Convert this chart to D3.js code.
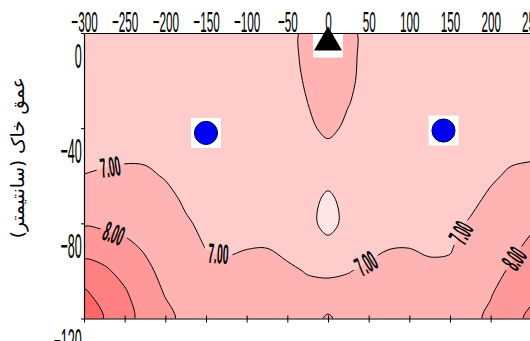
<!DOCTYPE html>
<html>
<head>
<meta charset="utf-8">
<script src="https://cdn.jsdelivr.net/npm/d3@7"></script>
<style>
  html, body { margin: 0; padding: 0; background: #fff; }
  svg { display: block; }
</style>
</head>
<body>
<div id="chart"></div>
<script>
const xValues = [-300, -275, -250, -225, -200, -175, -150, -125, -100, -75, -50, -25, 0,
                 25, 50, 75, 100, 125, 150, 175, 200, 225, 250, 275, 300];
const depths = [0, -10, -20, -30, -40, -50, -60, -70, -80, -90, -100, -110, -120];

const d0   = [6.4, 6.4, 6.4, 6.4, 6.4, 6.4, 6.4, 6.4, 6.4, 6.45, 6.6, 7.31, 7.6, 7.31, 6.6, 6.45, 6.4, 6.4, 6.4, 6.4, 6.4, 6.4, 6.4, 6.4, 6.4];
const d10  = [6.45, 6.45, 6.45, 6.45, 6.45, 6.45, 6.45, 6.45, 6.45, 6.47, 6.6, 7.3, 7.55, 7.3, 6.6, 6.47, 6.45, 6.45, 6.45, 6.45, 6.45, 6.45, 6.45, 6.45, 6.45];
const d20  = [6.5, 6.5, 6.5, 6.5, 6.5, 6.5, 6.5, 6.5, 6.5, 6.5, 6.6, 7.14, 7.45, 7.22, 6.6, 6.5, 6.5, 6.5, 6.5, 6.5, 6.5, 6.5, 6.5, 6.5, 6.5];
const d30  = [6.55, 6.55, 6.55, 6.55, 6.55, 6.55, 6.52, 6.52, 6.52, 6.52, 6.6, 6.99, 7.4, 7.03, 6.6, 6.52, 6.52, 6.52, 6.52, 6.55, 6.55, 6.6, 6.6, 6.6, 6.6];
const d40  = [6.65, 6.65, 6.65, 6.65, 6.62, 6.6, 6.55, 6.55, 6.55, 6.55, 6.6, 6.75, 7.3, 6.75, 6.6, 6.55, 6.55, 6.55, 6.55, 6.6, 6.65, 6.7, 6.75, 6.75, 6.78];
const d50  = [6.75, 6.8, 6.85, 6.85, 6.78, 6.68, 6.6, 6.6, 6.6, 6.6, 6.6, 6.62, 6.62, 6.62, 6.6, 6.6, 6.6, 6.6, 6.6, 6.65, 6.8, 6.85, 6.9, 6.92, 6.93];
const d60  = [7.02, 7.1, 7.15, 7.12, 6.95, 6.75, 6.65, 6.65, 6.65, 6.65, 6.62, 6.6, 6.6, 6.6, 6.62, 6.65, 6.65, 6.65, 6.65, 6.7, 6.9, 7.1, 7.15, 7.25, 7.3];
const d70  = [7.45, 7.5, 7.45, 7.4, 7.2, 6.9, 6.7, 6.7, 6.72, 6.72, 6.65, 6.6, 5.65, 6.6, 6.65, 6.72, 6.72, 6.72, 6.72, 6.85, 7.12, 7.35, 7.5, 7.7, 8.02];
const d80  = [7.9, 7.8, 7.75, 7.65, 7.4, 7.08, 6.85, 6.8, 6.85, 6.85, 6.7, 6.6, 5.35, 6.6, 6.7, 6.85, 6.8, 6.8, 6.82, 7.06, 7.3, 7.55, 7.85, 8.2, 8.5];
const d90  = [8.6, 8.5, 8.2, 7.9, 7.55, 7.25, 6.98, 6.93, 6.98, 6.99, 6.88, 6.75, 6.65, 6.75, 6.88, 6.98, 6.99, 6.93, 6.94, 7.3, 7.5, 7.8, 8.2, 8.55, 8.9];
const d100 = [9.4, 9.15, 8.7, 8.2, 7.75, 7.4, 7.2, 7.12, 7.18, 7.2, 7.08, 6.97, 6.94, 6.98, 7.08, 7.18, 7.2, 7.1, 7.14, 7.5, 7.72, 8.1, 8.5, 8.92, 9.3];
const d110 = [10.2, 9.6, 9.15, 8.4, 7.97, 7.6, 7.4, 7.3, 7.35, 7.4, 7.3, 7.15, 7.14, 7.17, 7.3, 7.38, 7.4, 7.3, 7.35, 7.7, 7.96, 8.4, 8.85, 9.3, 9.7];
const d120 = [11.0, 9.95, 9.4, 8.6, 8.2, 7.8, 7.6, 7.5, 7.5, 7.55, 7.5, 7.35, 8.2, 7.35, 7.5, 7.55, 7.6, 7.55, 7.65, 7.8, 8.15, 8.7, 9.2, 9.7, 10.1];

const levels = [6, 7, 8, 9, 10];
const bandColors = ['#ffe6e6', '#ffcccc', '#ffb3b3', '#ff9999', '#ff8080', '#ff6666'];

// contour labels (level, approx position)
const labelLevels = [7, 8, 7, 7, 7, 8];
const labelX = [-266, -263, -135, 47, 164, 230];
const labelY = [-59, -84, -93, -97, -84, -95];

// sampling points
const markerType = ['triangle', 'circle', 'circle'];
const markerX = [0, -150, 142];
const markerY = [-4, -42, -41];

const xTicks = [-300, -250, -200, -150, -100, -50, 0, 50, 100, 150, 200, 250, 300];
const yTicks = [0, -40, -80, -120];
const yTitle = 'عمق خاک (سانتیمتر)';

const width = 530;
const height = 341;

const svg = d3.select('#chart')
  .append('svg')
  .attr('width', width)
  .attr('height', height);

const x = d3.scaleLinear().domain([-300, 300]).range([84, 572]);
const y = d3.scaleLinear().domain([0, -120]).range([33, 318.5]);

// grid index -> pixel (d3.contours puts sample i at i + 0.5)
const nx = xValues.length, ny = depths.length;
const gx = d3.scaleLinear().domain([0.5, nx - 0.5]).range([x(xValues[0]), x(xValues[nx - 1])]);
const gy = d3.scaleLinear().domain([0.5, ny - 0.5]).range([y(depths[0]), y(depths[ny - 1])]);

const values = [].concat(d0, d10, d20, d30, d40, d50, d60, d70, d80, d90, d100, d110, d120);
const contours = d3.contours().size([nx, ny]).thresholds(levels)(values);

const ringLine = d3.line().curve(d3.curveCatmullRomClosed.alpha(0.5));
function multiPath(multi) {
  return multi.coordinates.map(poly =>
    poly.map(ring => ringLine(ring.slice(0, -1).map(p => [gx(p[0]), gy(p[1])]))).join('')
  ).join('');
}

const defs = svg.append('defs');
defs.append('clipPath').attr('id', 'plot-clip')
  .append('rect')
  .attr('x', x(-300)).attr('y', y(0))
  .attr('width', x(300) - x(-300)).attr('height', y(-120) - y(0));

// find where a label sits on its contour and the line direction there
function placeLabel(level, lx, ly) {
  const px = x(lx), py = y(ly);
  const multi = contours.find(c => c.value === level);
  let best = null;
  multi.coordinates.forEach(poly => poly.forEach(ring => {
    const pts = ring.map(p => [gx(p[0]), gy(p[1])]);
    for (let i = 0; i < pts.length - 1; i++) {
      const ax = pts[i][0], ay = pts[i][1];
      const dx = pts[i + 1][0] - ax, dy = pts[i + 1][1] - ay;
      const len2 = dx * dx + dy * dy || 1;
      const t = Math.max(0, Math.min(1, ((px - ax) * dx + (py - ay) * dy) / len2));
      const qx = ax + t * dx, qy = ay + t * dy;
      const dist = (qx - px) ** 2 + (qy - py) ** 2;
      if (!best || dist < best.dist) {
        const p0 = pts[Math.max(0, i - 1)], p1 = pts[Math.min(pts.length - 1, i + 2)];
        best = { dist, qx, qy, angle: Math.atan2(p1[1] - p0[1], p1[0] - p0[0]) * 180 / Math.PI };
      }
    }
  }));
  let a = best.angle;
  if (a > 90) a -= 180;
  if (a < -90) a += 180;
  return { x: best.qx, y: best.qy, angle: a, text: level.toFixed(2) };
}
const labels = labelLevels.map((lv, i) => placeLabel(lv, labelX[i], labelY[i]));

// mask that opens gaps in the lines under the labels
const mask = defs.append('mask').attr('id', 'label-gaps')
  .attr('maskUnits', 'userSpaceOnUse')
  .attr('x', 0).attr('y', 0).attr('width', width).attr('height', height);
mask.append('rect').attr('width', width).attr('height', height).attr('fill', '#fff');
mask.selectAll('rect.gap')
  .data(labels)
  .join('rect')
  .attr('class', 'gap')
  .attr('x', -14).attr('y', -11)
  .attr('width', 28).attr('height', 22)
  .attr('fill', '#000')
  .attr('transform', d => `translate(${d.x},${d.y}) rotate(${d.angle})`);

const plot = svg.append('g').attr('clip-path', 'url(#plot-clip)');

plot.append('rect')
  .attr('x', x(-300)).attr('y', y(0))
  .attr('width', x(300) - x(-300)).attr('height', y(-120) - y(0))
  .attr('fill', bandColors[0]);

plot.selectAll('path.band')
  .data(contours)
  .join('path')
  .attr('class', 'band')
  .attr('d', multiPath)
  .attr('fill', (d, i) => bandColors[i + 1])
  .attr('fill-rule', 'evenodd');

plot.append('g')
  .attr('mask', 'url(#label-gaps)')
  .selectAll('path')
  .data(contours)
  .join('path')
  .attr('d', multiPath)
  .attr('fill', 'none')
  .attr('stroke', '#000')
  .attr('stroke-width', 1);

// contour labels
svg.append('g')
  .selectAll('text')
  .data(labels)
  .join('text')
  .attr('transform', d => `translate(${d.x},${d.y}) rotate(${d.angle}) scale(0.37,1)`)
  .attr('text-anchor', 'middle')
  .attr('dy', '0.36em')
  .style('font-family', '"Liberation Sans", Arial, sans-serif')
  .style('font-weight', 'bold')
  .style('font-size', '28px')
  .text(d => d.text);

// markers
const markers = markerType.map((t, i) => ({ type: t, x: markerX[i], y: markerY[i] }));
const mk = svg.append('g')
  .selectAll('g')
  .data(markers)
  .join('g')
  .attr('transform', d => `translate(${x(d.x)},${y(d.y)})`);
mk.append('rect')
  .attr('x', -15).attr('y', -15).attr('width', 30).attr('height', 30)
  .attr('fill', '#fff');
mk.append('path')
  .attr('d', d => d.type === 'triangle'
    ? d3.symbol(d3.symbolTriangle, 340)()
    : d3.symbol(d3.symbolCircle, 420)())
  .attr('fill', d => d.type === 'triangle' ? '#000' : '#0000f2')
  .attr('stroke', d => d.type === 'triangle' ? 'none' : '#00005a')
  .attr('stroke-width', 1);

// axes
const axisFont = '"Liberation Sans", Arial, sans-serif';

const topAxis = svg.append('g')
  .attr('transform', `translate(0,${y(0)})`)
  .call(d3.axisTop(x).tickValues(xTicks).tickSize(0).tickPadding(1).tickFormat(d3.format('d')));
topAxis.select('.domain').attr('stroke', '#000').attr('stroke-width', 1.2);
topAxis.selectAll('text')
  .attr('fill', '#000')
  .attr('transform', 'scale(0.39,1)')
  .style('font-family', axisFont)
  .style('font-size', '30px');

const leftAxis = svg.append('g')
  .attr('transform', `translate(${x(-300)},0)`)
  .call(d3.axisLeft(y).tickValues(yTicks).tickSize(3).tickSizeOuter(0).tickPadding(3).tickFormat(d3.format('d')));
leftAxis.select('.domain').attr('stroke', '#000').attr('stroke-width', 1.2);
leftAxis.selectAll('text')
  .attr('fill', '#000')
  .attr('y', 23)
  .attr('transform', 'scale(0.36,1)')
  .style('font-family', axisFont)
  .style('font-size', '35px');

const bottomAxis = svg.append('g')
  .attr('transform', `translate(0,${y(-120)})`)
  .call(d3.axisBottom(x).tickValues(xTicks).tickSize(4).tickSizeOuter(0).tickFormat(''));
bottomAxis.select('.domain').attr('stroke', '#000').attr('stroke-width', 1.2);
bottomAxis.selectAll('.tick line').attr('y1', -3);

svg.append('text')
  .attr('transform', `translate(18,${(y(0) + y(-120)) / 2 - 18}) rotate(-90)`)
  .attr('text-anchor', 'middle')
  .attr('dy', '0.35em')
  .style('font-family', '"DejaVu Sans", sans-serif')
  .style('font-size', '18.5px')
  .text(yTitle);
</script>
</body>
</html>
